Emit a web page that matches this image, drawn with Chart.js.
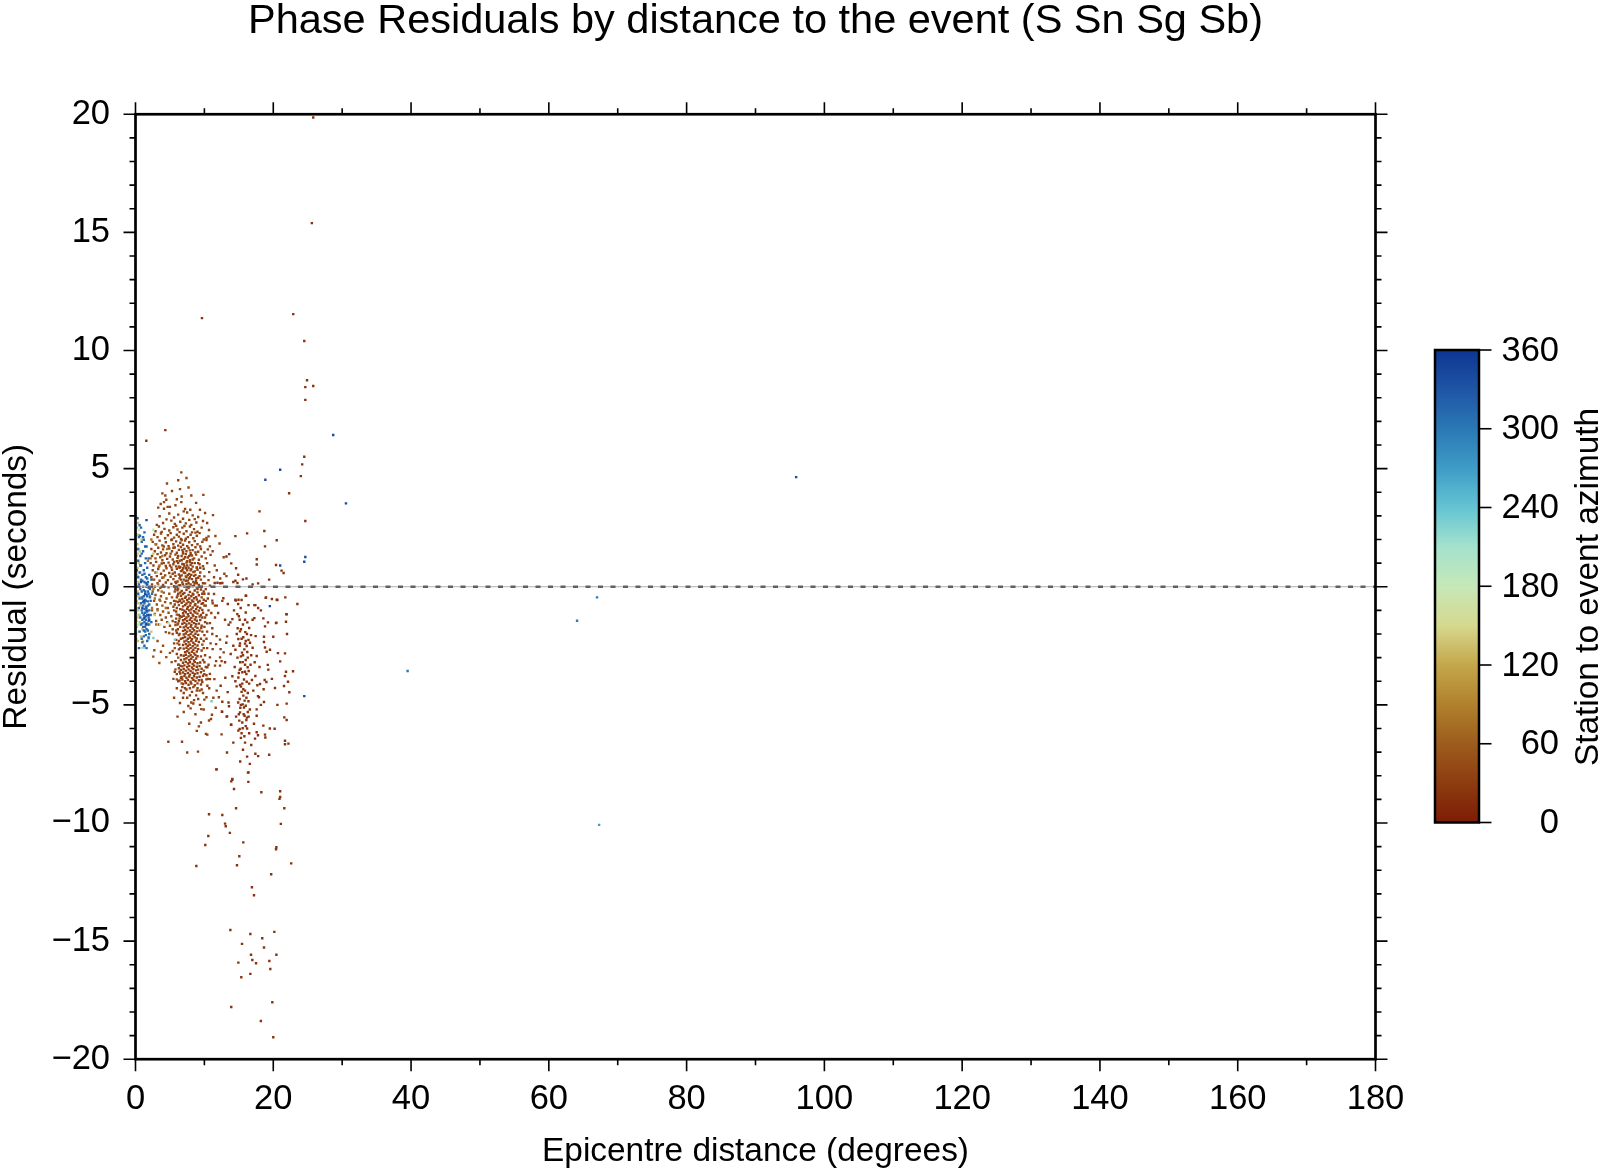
<!DOCTYPE html>
<html>
<head>
<meta charset="utf-8">
<title>Phase Residuals by distance to the event</title>
<script src="https://cdn.jsdelivr.net/npm/chart.js@4.4.1/dist/chart.umd.min.js"></script>
<style>
  html, body { margin: 0; padding: 0; background: #fff; }
  #wrap { width: 1600px; height: 1169px; }
</style>
</head>
<body>
<div id="wrap"><canvas id="residuals" width="1600" height="1169"></canvas></div>
<script>
// ── Axis ticks / labels ─────────────────────────────────────
const xLabels  = [0, 20, 40, 60, 80, 100, 120, 140, 160, 180];
const yLabels  = [-20, -15, -10, -5, 0, 5, 10, 15, 20];
const cbLabels = [0, 60, 120, 180, 240, 300, 360];
const zeroLevel = 0;

// ── Points: [distance (deg), residual (s)], grouped by azimuth colour ──
// dense core of the near cluster (~az 32)
const coreBrown = [
  [6.7,-0.18],[7.1,-0.26],[7.4,-0.13],[7.9,-0.22],[8.3,-0.3],[8.6,-0.16],[9.0,-0.24],[9.5,-0.12],
  [6.6,-0.38],[6.9,-0.31],[7.3,-0.42],[7.7,-0.35],[8.1,-0.4],[8.4,-0.33],[8.8,-0.44],[9.2,-0.36],[9.7,-0.3],
  [6.8,-0.52],[7.2,-0.47],[7.5,-0.56],[7.8,-0.5],[8.2,-0.58],[8.5,-0.49],[8.9,-0.54],[9.3,-0.6],
  [6.7,-0.68],[7.0,-0.62],[7.4,-0.71],[7.7,-0.65],[8.0,-0.7],[8.4,-0.63],[8.7,-0.74],[9.1,-0.66],[9.6,-0.72],
  [6.9,-0.83],[7.2,-0.78],[7.6,-0.86],[7.9,-0.8],[8.3,-0.88],[8.6,-0.79],[9.0,-0.85],[9.4,-0.9],
  [6.8,-0.97],[7.1,-1.02],[7.5,-0.94],[7.8,-1.0],[8.1,-0.96],[8.5,-1.04],[8.8,-0.95],[9.2,-1.01],[9.7,-0.98],
  [6.9,-1.12],[7.3,-1.08],[7.6,-1.16],[8.0,-1.1],[8.3,-1.18],[8.7,-1.09],[9.0,-1.14],[9.5,-1.2],
  [6.7,-1.27],[7.0,-1.23],[7.4,-1.3],[7.7,-1.25],[8.1,-1.32],[8.4,-1.24],[8.8,-1.29],[9.3,-1.26],
  [6.9,-1.42],[7.2,-1.38],[7.5,-1.45],[7.9,-1.4],[8.2,-1.47],[8.6,-1.39],[8.9,-1.44],[9.4,-1.41],
  [6.8,-1.57],[7.1,-1.53],[7.4,-1.6],[7.8,-1.55],[8.1,-1.62],[8.5,-1.54],[8.8,-1.59],[9.2,-1.56],
  [7.0,-1.72],[7.3,-1.68],[7.6,-1.75],[8.0,-1.7],[8.3,-1.77],[8.7,-1.69],[9.0,-1.74],
  [6.9,-1.87],[7.2,-1.83],[7.5,-1.9],[7.9,-1.85],[8.2,-1.92],[8.5,-1.84],[8.9,-1.89],[9.3,-1.86],
  [7.0,-2.02],[7.3,-1.98],[7.7,-2.05],[8.0,-2.0],[8.4,-2.07],[8.7,-1.99],[9.1,-2.04],
  [6.9,-2.17],[7.2,-2.13],[7.6,-2.2],[7.9,-2.15],[8.2,-2.22],[8.6,-2.14],[8.9,-2.19],
  [7.1,-2.32],[7.4,-2.28],[7.7,-2.35],[8.1,-2.3],[8.4,-2.37],[8.8,-2.29],[9.2,-2.34],
  [6.9,-2.47],[7.3,-2.43],[7.6,-2.5],[7.9,-2.45],[8.3,-2.52],[8.6,-2.44],[9.0,-2.49],
  [7.0,-2.62],[7.4,-2.58],[7.7,-2.65],[8.0,-2.6],[8.4,-2.67],[8.7,-2.59],[9.1,-2.64],
  [7.2,-2.77],[7.5,-2.73],[7.8,-2.8],[8.2,-2.75],[8.5,-2.82],[8.9,-2.74],
  [7.0,-2.92],[7.3,-2.88],[7.7,-2.95],[8.0,-2.9],[8.3,-2.97],[8.7,-2.89],[9.0,-2.94],
  [7.1,-3.07],[7.4,-3.03],[7.8,-3.1],[8.1,-3.05],[8.5,-3.12],[8.8,-3.04],
  [6.9,-3.22],[7.3,-3.18],[7.6,-3.25],[7.9,-3.2],[8.3,-3.27],[8.6,-3.19],[9.0,-3.24],[9.4,-3.21],
  [6.8,-3.37],[7.1,-3.33],[7.5,-3.4],[7.8,-3.35],[8.2,-3.42],[8.5,-3.34],[8.9,-3.39],[9.3,-3.36],
  [6.6,-3.52],[7.0,-3.48],[7.3,-3.55],[7.7,-3.5],[8.0,-3.57],[8.4,-3.49],[8.8,-3.54],[9.1,-3.51],[9.6,-3.47],
  [6.5,-3.67],[6.9,-3.63],[7.2,-3.7],[7.6,-3.65],[7.9,-3.72],[8.3,-3.64],[8.6,-3.69],[9.0,-3.66],[9.5,-3.62],[10.0,-3.7],
  [6.7,-3.82],[7.1,-3.78],[7.4,-3.85],[7.8,-3.8],[8.2,-3.87],[8.5,-3.79],[8.9,-3.84],[9.3,-3.81],[9.8,-3.77],
  [6.4,-3.97],[6.8,-3.93],[7.2,-4.0],[7.6,-3.95],[8.0,-4.02],[8.4,-3.94],[8.7,-3.99],[9.2,-3.96],[9.7,-4.03],[10.3,-3.92],
  [6.9,-4.12],[7.3,-4.08],[7.7,-4.15],[8.1,-4.1],[8.6,-4.17],[9.0,-4.09],[9.5,-4.14],
  [6.9,0.1],[7.3,0.25],[7.7,0.15],[8.1,0.5],[8.4,0.2],[7.5,0.9],[8.2,1.0],[7.0,0.6],[7.8,0.35],[8.6,0.65],
  [6.6,0.3],[9.3,0.45],[7.3,0.78],[8.5,0.05],[9.0,-0.1],[6.7,1.12],
  [6.5,0.45],[7.0,0.95],[7.6,0.5],[8.0,0.7],[8.3,1.15],[8.8,0.35],[9.1,1.0],[7.2,1.25],[6.8,0.7],[7.8,1.3],
  [8.7,1.45],[9.4,0.8],[7.4,0.4],[8.9,0.15],[6.3,0.85]
];

// flanks of the core (~az 34)
const coreWide = [
  [5.8,0.2],[6.3,0.05],[6.0,-0.45],[6.5,-0.25],[5.7,-0.75],[6.2,-0.65],[6.5,-0.95],[5.9,-1.05],[6.3,-1.45],[5.8,-1.5],
  [6.5,-1.7],[6.0,-1.95],[6.6,-2.2],[5.9,-2.25],[6.3,-2.65],[6.0,-2.85],[6.6,-3.1],[5.8,-3.15],[6.3,-3.45],[6.0,-3.7],
  [6.6,-3.85],[6.2,-4.0],[5.7,-3.6],[5.6,-2.4],[6.45,-1.25],[6.45,-0.6],[6.1,-0.15],[6.55,-3.35],[6.35,-2.45],[6.15,-1.8],
  [9.8,0.15],[10.2,-0.1],[9.6,-0.45],[10.0,-0.8],[9.7,-1.3],[10.3,-1.2],[9.6,-1.65],[10.0,-2.05],[9.5,-2.2],[10.4,-2.6],
  [9.7,-2.45],[10.0,-3.2],[9.5,-2.95],[9.9,-3.55],[10.3,-3.75],[9.6,-3.95],[10.6,-3.3],[9.9,-0.55],[10.4,-1.55],[9.55,-1.75]
];

// ragged edges and lower taper of the core (~az 36)
const coreEdge = [
  [6.2,-0.3],[6.0,-0.9],[6.3,-1.2],[6.1,-1.6],[6.4,-2.0],[6.5,-2.6],[6.3,-2.3],[6.6,-2.9],[6.2,-3.3],[6.4,-3.6],
  [6.0,-4.3],[6.6,-4.4],[9.9,-0.2],[10.2,-0.6],[9.8,-1.1],[10.1,-1.5],[9.7,-1.9],[9.9,-2.3],[9.6,-2.7],[9.8,-3.1],
  [10.2,-3.4],[10.5,-3.9],[7.2,-4.3],[7.9,-4.6],[8.4,-4.25],[8.9,-4.4],[7.5,-4.7],[9.6,-4.35],[8.1,-4.9],[6.8,-4.25],
  [9.1,-4.75],[7.0,-5.3],[8.7,-5.4],[9.9,-5.2],[6.1,-5.5],[7.8,-5.8],[8.9,-6.1],[5.6,-4.7],[10.7,-4.3],[11.3,-4.7],
  [5.8,-0.1],[5.6,-0.6],[5.9,-1.35],[5.4,-1.8],[10.4,-1.9],[10.9,-2.4],[10.6,-0.3],[11.2,-0.7]
];

// upper half of the near cluster (~az 38)
const upperBrown = [
  [6.65,4.84],[6.2,4.51],[4.57,4.37],[7.4,4.6],
  [6.46,4.13],[9.85,3.89],[8.1,3.86],[4.33,3.86],[6.7,3.82],[5.3,4.05],[7.7,4.2],[3.9,3.95],
  [4.47,3.68],[4.14,3.58],[3.66,3.5],[4.67,3.38],[5.0,3.38],[6.65,3.58],[7.2,3.29],[7.95,3.26],[9.36,3.26],[8.8,3.55],[5.8,3.45],[3.3,3.35],[6.0,3.7],
  [4.14,3.3],[7.0,3.19],[7.5,3.14],[8.3,3.02],[11.25,3.03],[5.6,2.93],[6.2,3.05],[4.9,3.1],[9.1,2.95],[3.5,2.98],[10.1,3.12],
  [8.6,2.86],[8.83,2.72],[5.2,2.8],[6.5,2.75],[7.3,2.68],[4.0,2.7],[3.1,2.62],[9.8,2.78],[6.9,2.88],[5.7,2.66],[7.8,2.83],[4.5,2.85],[8.1,2.62],[10.4,2.7],
  [10.67,2.4],[3.4,2.55],[4.2,2.45],[4.9,2.38],[5.5,2.52],[6.1,2.42],[6.8,2.5],[7.4,2.35],[7.9,2.55],[8.5,2.44],[9.0,2.33],[9.6,2.5],[2.9,2.35],[5.9,2.58],[7.1,2.57],[8.2,2.3],[6.4,2.31],[3.8,2.32],
  [10.6,2.13],[10.3,2.06],[2.7,2.2],[3.2,2.1],[3.7,2.25],[4.3,2.05],[4.7,2.18],[5.1,2.27],[5.6,2.08],[6.0,2.2],[6.6,2.02],[7.0,2.24],[7.6,2.1],[8.0,2.2],[8.4,2.05],[8.9,2.16],[9.3,2.27],[9.9,2.0],[6.3,2.12],[7.3,2.03],[5.3,2.0],[8.7,2.29],[11.6,2.15],
  [10.3,1.98],[10.8,1.71],[2.5,1.9],[3.0,1.8],[3.5,1.95],[3.9,1.75],[4.4,1.88],[4.8,1.72],[5.2,1.98],[5.5,1.8],[5.9,1.92],[6.2,1.74],[6.5,1.86],[6.9,1.78],[7.2,1.95],[7.5,1.72],[7.8,1.88],[8.2,1.76],[8.6,1.93],[9.0,1.8],[9.4,1.7],[9.7,1.9],[12.2,1.83],[4.1,1.7],[6.7,1.98],
  [2.3,1.6],[2.8,1.5],[3.3,1.65],[3.7,1.45],[4.0,1.58],[4.5,1.42],[4.9,1.62],[5.3,1.5],[5.7,1.66],[6.0,1.44],[6.3,1.56],[6.6,1.68],[6.9,1.46],[7.1,1.6],[7.4,1.5],[7.7,1.64],[8.0,1.42],[8.3,1.55],[8.7,1.67],[9.1,1.48],[9.5,1.6],[10.0,1.45],[10.5,1.58],[11.2,1.5],[5.1,1.4],[7.9,1.54],[6.8,1.55],
  [2.4,1.3],[2.9,1.2],[3.2,1.38],[3.6,1.25],[3.9,1.12],[4.3,1.33],[4.6,1.18],[5.0,1.28],[5.4,1.15],[5.8,1.36],[6.1,1.22],[6.4,1.1],[6.7,1.3],[7.0,1.18],[7.3,1.38],[7.6,1.24],[7.9,1.12],[8.2,1.32],[8.5,1.2],[8.8,1.36],[9.2,1.14],[9.6,1.28],[10.2,1.2],[10.9,1.35],[12.8,1.25],[5.6,1.05],[7.5,1.08],[6.9,1.4],[8.0,1.35],[4.1,1.0],
  [2.2,1.0],[2.6,0.9],[3.0,1.05],[3.4,0.85],[3.8,0.98],[4.4,0.88],[4.8,1.02],[5.2,0.82],[5.5,0.95],[5.9,0.86],[6.2,1.0],[6.5,0.84],[6.8,0.96],[7.1,0.88],[7.4,1.02],[7.7,0.8],[8.0,0.93],[8.3,0.85],[8.6,1.0],[8.9,0.82],[9.3,0.95],[9.8,0.87],[10.4,1.0],[11.5,0.9],[6.0,1.08],[7.9,1.05],
  [2.5,0.7],[2.9,0.6],[3.3,0.75],[3.7,0.55],[4.1,0.68],[4.5,0.78],[4.9,0.58],[5.3,0.72],[5.7,0.6],[6.0,0.76],[6.3,0.52],[6.6,0.66],[6.9,0.78],[7.2,0.58],[7.5,0.7],[7.8,0.54],[8.1,0.74],[8.4,0.62],[8.7,0.5],[9.0,0.72],[9.4,0.6],[9.9,0.76],[10.7,0.62],[11.8,0.7],[12.9,0.55],[6.4,0.8],[8.9,0.8],
  [2.3,0.4],[2.7,0.3],[3.1,0.45],[3.5,0.25],[3.9,0.38],[4.3,0.48],[4.7,0.28],[5.1,0.42],[5.5,0.32],[5.8,0.46],[6.1,0.22],[6.4,0.36],[6.7,0.48],[7.0,0.3],[7.3,0.44],[7.6,0.26],[7.9,0.4],[8.2,0.32],[8.5,0.46],[8.8,0.24],[9.1,0.38],[9.5,0.3],[10.0,0.44],[10.6,0.28],[11.4,0.4],[12.3,0.35],[13.2,0.45],
  [2.4,0.1],[2.8,0.0],[3.2,0.15],[3.6,-0.05],[4.0,0.08],[4.4,0.18],[4.8,-0.02],[5.2,0.12],[5.6,0.02],[5.9,0.16],[6.2,-0.08],[6.5,0.06],[6.8,0.18],[7.1,0.0],[7.4,0.12],[7.7,-0.06],[8.0,0.1],[8.3,0.02],[8.6,0.16],[8.9,-0.04],[9.2,0.08],[9.6,0.0],[10.1,0.14],[10.8,0.04],
  [5.4,0.55],[5.0,0.9],[6.2,1.3],[5.5,1.65]
];

// lower-left of the near cluster (~az 48)
const lowerLeftBrown = [
  [2.5,-0.2],[2.9,-0.35],[3.3,-0.15],[3.7,-0.4],[4.1,-0.25],[4.5,-0.5],[4.9,-0.3],[5.3,-0.45],[5.7,-0.2],[6.1,-0.38],[6.4,-0.55],
  [2.7,-0.6],[3.1,-0.75],[3.5,-0.55],[3.9,-0.8],[4.3,-0.65],[4.7,-0.9],[5.1,-0.7],[5.5,-0.85],[5.9,-0.62],[6.3,-0.78],
  [2.4,-1.0],[2.8,-1.15],[3.2,-0.95],[3.6,-1.2],[4.0,-1.05],[4.4,-1.3],[4.8,-1.1],[5.2,-1.25],[5.6,-1.0],[6.0,-1.18],[6.4,-1.35],
  [3.0,-1.45],[3.4,-1.6],[3.8,-1.4],[4.2,-1.7],[4.6,-1.5],[5.0,-1.65],[5.4,-1.45],[5.8,-1.62],[6.2,-1.55],
  [4.4,-1.92],[4.9,-1.96],[5.4,-2.0],[5.9,-1.85],[6.3,-2.05],[6.1,-2.4],[5.7,-2.6],
  [2.73,-2.69],[3.7,-2.75],[2.58,-2.96],[3.46,-3.23],[4.47,-2.98],[5.25,-3.19],[5.4,-2.72],[5.0,-2.8],
  [5.5,-3.9],[6.0,-3.92],[6.7,-4.09],[3.2,-2.3],[4.0,-2.5],[6.2,-3.0],[5.8,-3.5],[6.3,-3.3]
];

// right edge and lower tail of the near cluster (~az 35)
const sideBrown = [
  [10.0,-0.3],[10.5,-0.5],[11.4,-0.31],[10.2,-0.8],[11.15,-0.59],[11.54,-0.8],[11.8,-0.8],[12.0,-1.11],[11.0,-1.11],[11.54,-1.3],
  [10.8,-1.54],[10.1,-1.3],[11.15,-1.76],[11.15,-2.0],[11.78,-2.09],[12.27,-2.24],[12.35,-2.64],[12.27,-2.99],[12.8,-2.78],[11.7,-3.15],
  [12.5,-3.15],[11.7,-2.43],[11.2,-2.64],[10.8,-2.99],[10.43,-3.41],[11.54,-3.34],[12.27,-3.34],[10.8,-3.69],[11.45,-3.91],[10.8,-3.91],
  [10.43,-4.19],[11.78,-4.4],[12.1,-4.68],[10.0,-1.7],[10.3,-2.2],[9.9,-2.6],[10.1,-2.9],[9.8,-0.7],[10.6,-1.0],[13.0,-1.4],
  [12.6,-0.6],[13.3,-2.1],
  [6.46,-4.92],[7.67,-5.05],[8.0,-5.15],[8.4,-4.94],[9.36,-5.0],[9.55,-5.18],[10.0,-4.78],[10.3,-4.68],[9.2,-5.91],[9.5,-5.75],
  [10.67,-5.66],[11.1,-5.42],[10.96,-5.6],[11.64,-5.12],[12.56,-5.29],[10.23,-6.23],[10.42,-6.26],[12.5,-6.25],[4.77,-6.56],[6.75,-6.56],
  [7.5,-7.02],[9.07,-6.98],[11.78,-7.73],[7.0,-4.5],[7.4,-4.35],[8.2,-4.45],[8.8,-4.6],[9.3,-4.4],[9.8,-4.5],[6.9,-4.7],
  [8.5,-4.8],[7.9,-4.3],[9.0,-4.3]
];

// the far cluster, 11-26 deg, and the big outliers (~az 22)
const farBrown = [
  [13.6,1.38],[13.2,1.28],[14.5,2.14],[13.9,0.99],[14.6,0.78],[14.9,0.51],[14.5,0.25],[15.6,0.31],[14.2,0.2],[17.8,0.14],
  [19.4,0.3],[16.1,0.35],[17.0,0.1],[17.6,1.16],[17.6,0.94],[20.4,0.92],[21.2,0.68],[21.5,0.58],[11.5,0.16],[11.9,0.17],
  [12.3,0.15],[12.6,0.16],[14.8,0.16],[16.2,2.26],[18.7,2.36],[18.0,3.19],[20.5,1.97],[18.8,1.71],[22.3,3.96],[24.0,4.68],
  [24.65,2.78],[24.2,5.18],[24.5,5.5],[24.65,7.91],[24.65,8.45],[24.9,8.74],[25.8,8.5],[24.5,10.4],[22.9,11.54],[25.6,15.39],
  [25.8,19.86],[9.65,11.37],[4.33,6.63],[1.57,6.18],
  [12.75,-0.49],[14.5,-0.55],[14.9,-0.73],[15.4,-0.56],[16.0,-0.38],[17.25,-0.78],[18.9,-0.47],[19.8,-0.52],[20.6,-0.56],[21.75,-0.45],
  [23.5,-0.73],[21.9,-1.16],[21.85,-1.48],[20.45,-1.52],
  [13.4,-0.73],[14.56,-0.59],[14.95,-0.55],[16.06,-0.38],[15.27,-0.9],[16.4,-0.78],[17.4,-0.78],[17.8,-0.9],[18.95,-0.45],[20.5,-0.55],
  [14.78,-1.16],[16.0,-1.09],[15.9,-1.4],[15.12,-1.4],[14.06,-1.37],[13.77,-1.51],[16.23,-1.51],[17.25,-1.33],[18.56,-1.34],[19.23,-1.51],
  [18.8,-1.68],[20.4,-1.54],[21.94,-1.17],[13.52,-1.61],[14.83,-1.76],[15.17,-1.89],[15.94,-1.92],[16.18,-2.0],[16.77,-2.05],[17.44,-2.09],
  [18.65,-2.12],[20.0,-2.12],[21.99,-2.0],[14.93,-2.21],[15.65,-2.14],[13.18,-2.37],[15.17,-2.4],[15.9,-2.41],[16.62,-2.37],[15.12,-2.5],
  [16.14,-2.51],[17.0,-2.58],[18.65,-2.34],[18.8,-2.57],[19.04,-2.75],[19.52,-2.67],[20.68,-2.81],[21.7,-2.82],[14.5,-2.67],[15.46,-2.79],
  [16.23,-2.76],[13.82,-2.85],[15.56,-3.19],[15.9,-3.3],[16.28,-3.41],[15.27,-3.47],[15.51,-3.62],[15.12,-3.52],[16.43,-3.57],[17.59,-2.93],
  [19.2,-3.31],[19.28,-3.51],[21.0,-3.16],[21.85,-3.6],[22.87,-3.58],[13.04,-3.85],[14.06,-3.79],[14.93,-3.84],[15.75,-3.93],[16.14,-4.02],
  [17.4,-3.78],[18.75,-3.95],[19.0,-4.03],[17.69,-4.17],[18.07,-4.12],[21.7,-3.78],[22.14,-4.02],[15.17,-4.16],[15.32,-4.23],[15.65,-4.34],
  [15.9,-4.4],[14.68,-4.22],[13.38,-4.46],[12.36,-4.19],[18.6,-4.34],[20.25,-4.29],[21.56,-4.2],[22.33,-4.47],[15.12,-4.75],[15.65,-4.61],
  [15.84,-4.82],[15.56,-4.98],[16.0,-5.04],[17.78,-4.63],[17.93,-4.68],[18.65,-4.88],[15.75,-5.11],[12.6,-4.87],[21.94,-4.95],[21.6,-5.53],
  [21.94,-5.64],[15.22,-5.12],[15.17,-5.32],[15.84,-5.46],[16.18,-5.54],[16.43,-5.5],[16.09,-5.64],[15.07,-5.67],[17.59,-5.19],[17.59,-5.46],
  [18.56,-5.88],[20.2,-6.01],[13.86,-5.84],[13.23,-5.5],[15.12,-6.02],[14.93,-6.09],[15.56,-5.99],[15.8,-6.33],[17.59,-6.16],[17.78,-6.29],
  [18.8,-6.26],[18.85,-6.38],[17.35,-6.43],[21.7,-6.52],[21.7,-6.67],[22.2,-6.64],[13.28,-7.02],[16.2,-7.19],[17.4,-7.07],[17.8,-7.17],
  [19.4,-7.11],[16.4,-7.86],[14.05,-8.17],[13.3,-5.49],[13.57,-5.06],[13.9,-5.84],[12.56,-5.29],
  [14.3,-1.0],[15.0,-1.25],[15.6,-1.6],[16.5,-1.75],[14.7,-2.0],[15.4,-2.2],[16.4,-2.25],[14.2,-2.5],[15.8,-2.65],[16.8,-2.9],
  [14.8,-3.0],[15.3,-2.95],[16.0,-3.1],[16.7,-3.3],[14.4,-3.4],[15.0,-3.65],[16.1,-3.7],[16.9,-3.95],[14.5,-4.0],[15.4,-4.45],
  [16.3,-4.5],[14.9,-4.9],[16.4,-4.85],[15.0,-5.4],[16.6,-5.2],[15.5,-5.75],[14.6,-5.5],[16.2,-6.0],[15.3,-6.4],[14.2,-6.6],
  [16.8,-6.7],[15.6,-6.9],[17.2,-5.8],[18.2,-5.0],[18.0,-3.4],[19.8,-3.9],[20.6,-5.0],[19.5,-6.0],[17.0,-1.4],[18.2,-1.0],
  [13.0,-3.2],[13.5,-4.9],
  [15.3,-1.8],[16.0,-2.3],[15.6,-2.9],[16.3,-3.0],[15.2,-3.2],[15.9,-3.6],[16.5,-4.1],[15.5,-4.1],[16.1,-4.7],[15.3,-5.0],
  [16.3,-5.3],[15.7,-5.4],[16.0,-5.9],[15.4,-6.2],[16.5,-6.2],[15.9,-6.6],[15.2,-7.4],[16.6,-7.5],[17.1,-4.4],[17.3,-3.2],
  [11.73,-7.73],[16.33,-7.87],[14.05,-8.14],[13.9,-8.24],[16.38,-8.26],[14.3,-8.56],[18.27,-8.7],[21.0,-8.66],[21.0,-8.9],[20.9,-8.98],
  [21.6,-9.38],[14.6,-9.38],[10.67,-9.63],[12.6,-9.66],[13.0,-10.03],[13.1,-10.14],[13.7,-10.42],[21.1,-10.04],[10.57,-10.55],[10.13,-10.93],
  [15.65,-10.82],[20.45,-11.03],[20.4,-11.11],[15.07,-11.41],[8.83,-11.82],[14.73,-11.79],[22.6,-11.71],[19.7,-12.17],[16.9,-12.72],[17.2,-13.06],
  [13.77,-14.53],[16.67,-14.7],[20.15,-14.61],[18.4,-14.88],[15.46,-15.12],[18.65,-15.27],[16.77,-15.58],[20.45,-15.58],[16.96,-15.8],[17.5,-15.94],
  [14.93,-15.91],[19.43,-15.84],[19.57,-16.18],[16.67,-16.39],[15.36,-16.53],[19.86,-17.59],[13.9,-17.79],[18.2,-18.38],[20.0,-19.07]
];

// transition colours at 1.5-4.6 deg (~az 78)
const olive = [
  [2.5,0.3],[2.8,-0.5],[3.2,-1.0],[2.2,1.2],[3.5,0.9],[2.9,1.8],[3.8,-0.2],[2.4,-0.9],[3.0,-1.6],[4.1,0.4],
  [2.6,-0.1],[3.3,0.1],[4.4,-0.9],[2.1,-0.4],[3.6,-0.6],[3.9,1.3],[2.3,2.0],[4.6,1.6],[1.8,1.1],[2.0,-1.6]
];

const yellow = [
  [0.2,2.5],[0.4,2.2],[0.3,1.8],[0.6,1.5],[0.2,1.3],[0.5,1.0],[0.3,0.8],[0.7,0.6],[0.2,0.4],[0.4,0.2],
  [0.6,0.0],[0.3,-0.2],[0.5,-0.4],[0.2,-0.6],[0.7,-0.8],[0.4,-1.0],[0.3,-1.3],[0.6,-1.5],[0.2,-1.7],[0.5,-1.9],
  [0.8,-2.1],[1.1,-2.3],[0.9,2.0],[1.0,-1.8],[2.3,-1.9],[2.8,-1.2],[3.1,0.6],[2.6,1.4],
  [0.1,2.2],[0.15,1.55],[0.1,1.0],[0.15,0.6],[0.1,0.0],[0.15,-0.4],[0.1,-1.1],[0.15,-1.45],[0.1,-2.2],[0.35,-2.3],
  [0.4,2.7],[0.35,0.45],[0.4,-0.7],[0.45,-1.2],[0.3,1.4]
];

const paleGreen = [
  [0.1,3.0],[0.3,1.1],[0.1,0.1],[0.2,-0.9],[0.4,-1.6],[2.6,2.41],[4.8,-1.54],[0.9,-2.6],[3.6,-1.6],[0.5,2.4]
];

const cyan = [
  [0.2,0.5],[0.6,-1.2],[1.9,-2.21],[2.6,-2.17],[5.7,-2.24],[11.05,-4.85],[1.2,-2.57],[0.1,-2.0],[0.5,1.6]
];

const blue = [
  [0.3,2.9],[0.6,2.6],[1.3,2.3],[0.5,2.1],[0.9,1.9],[1.6,1.7],[0.3,1.6],[1.1,1.5],[0.7,1.3],[1.9,1.2],
  [0.4,1.1],[1.4,1.0],[0.8,0.9],[1.7,0.8],[0.2,0.7],[1.2,0.7],[0.6,0.6],[2.0,0.5],[1.0,0.5],[0.4,0.4],
  [1.5,0.4],[0.8,0.3],[1.8,0.2],[1.3,0.2],[0.5,0.1],[1.1,0.0],[1.6,0.0],[0.7,-0.1],[2.1,-0.1],[1.4,-0.2],
  [0.9,-0.2],[1.9,-0.3],[0.4,-0.3],[1.2,-0.4],[1.7,-0.4],[0.6,-0.5],[1.0,-0.5],[1.5,-0.6],[2.2,-0.6],[0.8,-0.7],
  [1.3,-0.7],[1.8,-0.8],[1.1,-0.8],[0.5,-0.9],[1.6,-0.9],[2.0,-1.0],[0.9,-1.0],[1.4,-1.1],[1.2,-1.2],[1.7,-1.2],
  [0.7,-1.3],[1.9,-1.3],[1.0,-1.4],[1.5,-1.4],[2.3,-1.5],[1.3,-1.5],[0.8,-1.6],[1.8,-1.6],[1.1,-1.7],[1.6,-1.8],
  [0.6,-1.9],[1.4,-1.9],[2.0,-2.0],[1.2,-2.1],[0.9,-2.2],[1.7,-2.3],[1.3,-2.5],[0.5,-2.6],[0.65,2.16],[1.2,1.99],
  [1.0,0.25],[1.5,0.15],[1.9,-0.05],[1.2,-0.15],[1.6,-0.35],[2.1,-0.45],[0.9,-0.45],[1.4,-0.55],[1.8,-0.62],[1.1,-0.65],
  [1.5,-0.85],[2.0,-0.75],[1.3,-0.95],[1.7,-1.05],[1.0,-1.1],[1.5,-1.25],[1.9,-1.45],[1.2,-1.35],[1.6,-1.55],[1.0,-1.55],
  [1.4,-1.7],[1.8,-1.85],[1.2,-1.85],[1.5,-2.05],[1.9,-2.15],[1.0,-2.35],[1.6,-2.6],[0.7,0.9],[1.3,0.55],[1.7,0.35],
  [0.9,1.4],[1.5,1.2],[1.1,2.1],[0.8,2.5],[1.4,1.7],[1.8,-0.2],[2.2,-1.2],[2.4,-0.3],[2.3,0.3]
];

const darkBlue = [
  [1.6,2.82],[1.4,-0.3],[1.6,-1.0],[1.9,-1.2],[1.0,-0.9],[1.7,0.1],[1.3,-1.3],[2.0,-1.4],[0.8,0.2],[1.5,-1.6],
  [1.2,-0.6],
  [18.85,4.53],[21.0,4.95],[24.65,1.26],[24.5,1.06],[21.0,0.9],[19.5,-0.82],[24.5,-4.63],[28.7,6.42],[30.55,3.53],
  [95.9,4.64]
];

const midBlue = [[67.0,-0.45],[64.1,-1.44],[39.5,-3.57]];
const lightBlue = [[67.3,-10.08]];

// ── Colour palette (GMT roma-like, azimuth 0-360) ───────────
const cptAz  = [0, 30, 60, 90, 120, 150, 180, 210, 240, 270, 300, 330, 360];
const cptHex = ['#7d1c05', '#8d3c10', '#9d5c1d', '#b1812d', '#c4a74b', '#d6d88e', '#c6e8b8',
                '#a4e2cd', '#64c4d3', '#3e9cc6', '#2a78b5', '#1f55a5', '#0d3593'];

function hexRgb(h) {
  return [parseInt(h.slice(1, 3), 16), parseInt(h.slice(3, 5), 16), parseInt(h.slice(5, 7), 16)];
}

function azColor(az) {
  let i = 0;
  while (i < cptAz.length - 2 && az > cptAz[i + 1]) i++;
  const f = (az - cptAz[i]) / (cptAz[i + 1] - cptAz[i]);
  const a = hexRgb(cptHex[i]), b = hexRgb(cptHex[i + 1]);
  const c = a.map((v, k) => Math.round(v + (b[k] - v) * f));
  return `rgb(${c[0]},${c[1]},${c[2]})`;
}

const FONT = 'Liberation Sans';
const minus = v => String(v).replace('-', '\u2212');

// ── Frame, ticks and colour bar (GMT style) ──────────────────
const gmtFrame = {
  id: 'gmtFrame',
  afterDraw(chart) {
    const { ctx, chartArea: a, scales: { x, y } } = chart;
    ctx.save();
    ctx.strokeStyle = '#000';
    ctx.lineWidth = 1.6;
    ctx.beginPath();
    x.ticks.forEach(t => {
      const px = x.getPixelForValue(t.value);
      const len = xLabels.includes(t.value) ? 12 : 6;
      ctx.moveTo(px, a.bottom); ctx.lineTo(px, a.bottom + len);
      ctx.moveTo(px, a.top);    ctx.lineTo(px, a.top - len);
    });
    y.ticks.forEach(t => {
      const py = y.getPixelForValue(t.value);
      const len = yLabels.includes(t.value) ? 12 : 6;
      ctx.moveTo(a.left, py);  ctx.lineTo(a.left - len, py);
      ctx.moveTo(a.right, py); ctx.lineTo(a.right + len, py);
    });
    ctx.stroke();

    ctx.lineWidth = 2.7;
    ctx.strokeRect(a.left, a.top, a.right - a.left, a.bottom - a.top);

    // colour bar
    const cb = { left: 1435, right: 1479, top: 350, bottom: 822.5 };
    const grad = ctx.createLinearGradient(0, cb.bottom, 0, cb.top);
    cptAz.forEach((v, i) => grad.addColorStop(v / 360, cptHex[i]));
    ctx.fillStyle = grad;
    ctx.fillRect(cb.left, cb.top, cb.right - cb.left, cb.bottom - cb.top);
    ctx.lineWidth = 2.5;
    ctx.strokeRect(cb.left, cb.top, cb.right - cb.left, cb.bottom - cb.top);

    ctx.lineWidth = 1.6;
    ctx.fillStyle = '#000';
    ctx.font = `34.5px "${FONT}"`;
    ctx.textAlign = 'right';
    ctx.textBaseline = 'middle';
    cbLabels.forEach(v => {
      const py = cb.bottom - (v / 360) * (cb.bottom - cb.top);
      ctx.beginPath();
      ctx.moveTo(cb.right, py); ctx.lineTo(cb.right + 12.5, py);
      ctx.stroke();
      ctx.fillText(String(v), 1559, py + 1);
    });

    ctx.font = `33.4px "${FONT}"`;
    ctx.translate(1589, 587);
    ctx.rotate(-Math.PI / 2);
    ctx.textAlign = 'center';
    ctx.fillText('Station to event azimuth', 0, 0);
    ctx.restore();
  }
};

// ── Datasets ────────────────────────────────────────────────
const toXY = pts => pts.map(p => ({ x: p[0], y: p[1] }));

function scatterSet(pts, az) {
  const c = azColor(az);
  return {
    type: 'scatter',
    data: toXY(pts),
    pointStyle: 'rect',
    pointRadius: 1.7,
    pointBorderWidth: 0,
    pointBackgroundColor: c,
    backgroundColor: c,
    borderColor: c
  };
}

const zeroLine = [{ x: xLabels[0], y: zeroLevel }, { x: xLabels[xLabels.length - 1], y: zeroLevel }];

// first dataset is drawn on top
const datasets = [
  { type: 'line', data: zeroLine, borderColor: '#616161', borderWidth: 2.5, borderDash: [5, 7.5], pointRadius: 0, fill: false },
  { type: 'line', data: zeroLine, borderColor: '#b0b0b0', borderWidth: 1, pointRadius: 0, fill: false },
  scatterSet(darkBlue, 338),
  scatterSet(midBlue, 298),
  scatterSet(lightBlue, 268),
  scatterSet(blue, 314),
  scatterSet(cyan, 232),
  scatterSet(paleGreen, 172),
  scatterSet(yellow, 138),
  scatterSet(olive, 78),
  scatterSet(farBrown, 22),
  scatterSet(sideBrown, 35),
  scatterSet(lowerLeftBrown, 48),
  scatterSet(upperBrown, 38),
  scatterSet(coreEdge, 36),
  scatterSet(coreWide, 34),
  scatterSet(coreBrown, 32)
];

new Chart(document.getElementById('residuals'), {
  type: 'scatter',
  data: { datasets },
  options: {
    responsive: false,
    animation: false,
    events: [],
    layout: { padding: { left: 0, right: 224.5, top: 0, bottom: 0 } },
    plugins: {
      legend: { display: false },
      tooltip: { enabled: false },
      title: {
        display: true,
        fullSize: false,
        text: 'Phase Residuals by distance to the event (S Sn Sg Sb)',
        color: '#000',
        font: { family: FONT, size: 41.5, weight: 'normal', lineHeight: 0.9 },
        padding: { top: 2.5, bottom: 74.4 }
      }
    },
    scales: {
      x: {
        type: 'linear',
        min: 0, max: 180,
        afterFit: s => { s.height = 109.8; },
        grid: { display: false, drawTicks: false },
        border: { display: false },
        ticks: {
          stepSize: 10, autoSkip: false, maxRotation: 0, padding: 19.5, color: '#000',
          font: { family: FONT, size: 34.5 },
          callback: v => xLabels.includes(v) ? String(v) : ''
        },
        title: {
          display: true, text: 'Epicentre distance (degrees)', color: '#000',
          font: { family: FONT, size: 33.4, lineHeight: 1 },
          padding: { top: 0, bottom: 0.3 }
        }
      },
      y: {
        type: 'linear',
        min: -20, max: 20,
        afterFit: s => { s.width = 135.5; },
        grid: { display: false, drawTicks: false },
        border: { display: false },
        ticks: {
          stepSize: 1, autoSkip: false, padding: 25.5, color: '#000',
          font: { family: FONT, size: 34.5 },
          callback: v => yLabels.includes(v) ? minus(v) : ''
        },
        title: {
          display: true, text: 'Residual (seconds)', color: '#000',
          font: { family: FONT, size: 33.4, lineHeight: 0.9 },
          padding: { top: 1.5, bottom: 0 }
        }
      }
    }
  },
  plugins: [gmtFrame]
});
</script>
</body>
</html>
